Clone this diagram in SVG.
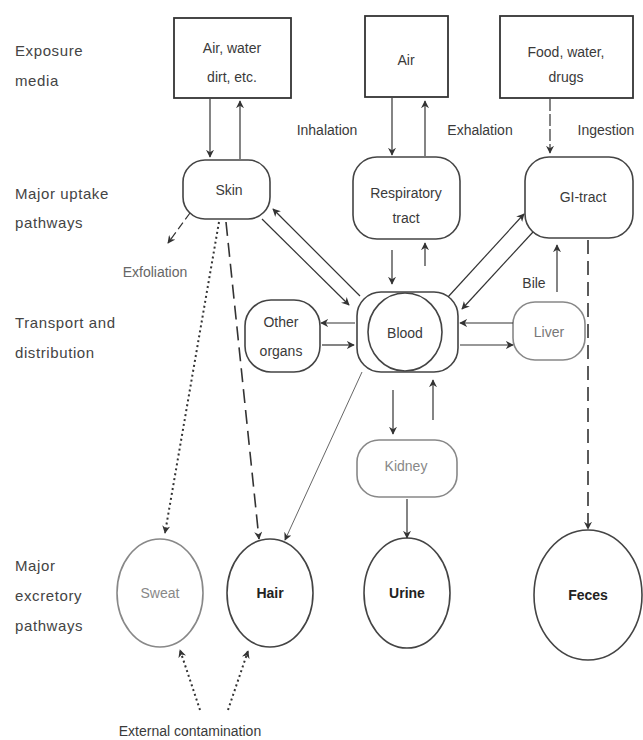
<svg xmlns="http://www.w3.org/2000/svg" width="643" height="740" viewBox="0 0 643 740">
<style>
text{font-family:"Liberation Sans","DejaVu Sans",sans-serif;font-size:14px;fill:#3a3a3a;text-anchor:middle;dominant-baseline:central}
.lbl{text-anchor:start;font-size:15px;letter-spacing:0.6px;fill:#444}
.box{fill:none;stroke:#333;stroke-width:1.8}
.node{fill:none;stroke:#444;stroke-width:1.6}
.light{stroke:#888}
.c{fill:none;stroke:#333;stroke-width:1.2}
.thin{stroke-width:0.9;stroke:#555}
.dot{stroke-dasharray:2 3;stroke-width:2}
.dash{stroke-dasharray:14 7;stroke-width:1.6}
.b{font-weight:bold;fill:#222}
</style>
<defs>
<marker id="ah" viewBox="0 0 10 10" refX="9" refY="5" markerWidth="8" markerHeight="8" orient="auto" markerUnits="userSpaceOnUse">
<path d="M0,0 L10,5 L0,10 L3,5 Z" fill="#333"/>
</marker>
</defs>
<rect width="643" height="740" fill="#fff"/>
<g id="row-labels">
<text class="lbl" x="15" y="50">Exposure</text>
<text class="lbl" x="15" y="80">media</text>
<text class="lbl" x="15" y="193">Major uptake</text>
<text class="lbl" x="15" y="222">pathways</text>
<text class="lbl" x="15" y="322">Transport and</text>
<text class="lbl" x="15" y="352">distribution</text>
<text class="lbl" x="15" y="565">Major</text>
<text class="lbl" x="15" y="595">excretory</text>
<text class="lbl" x="15" y="625">pathways</text>
</g>
<g id="media-env">
<rect class="box" x="174" y="18" width="117" height="80"/>
<text x="232" y="48">Air, water</text>
<text x="232" y="77">dirt, etc.</text>
</g>
<g id="media-air">
<rect class="box" x="365" y="16" width="83" height="81"/>
<text x="406" y="60">Air</text>
</g>
<g id="media-food">
<rect class="box" x="500" y="16" width="133" height="82"/>
<text x="566" y="52">Food, water,</text>
<text x="566" y="77">drugs</text>
</g>
<g id="skin">
<rect class="node" x="183" y="160" width="87" height="59" rx="22"/>
<text x="229" y="190">Skin</text>
</g>
<g id="resp">
<rect class="node" x="353" y="157" width="107" height="82" rx="24"/>
<text x="406" y="193">Respiratory</text>
<text x="406" y="218">tract</text>
</g>
<g id="gi">
<rect class="node" x="525" y="157" width="108" height="81" rx="24"/>
<text x="583" y="197">GI-tract</text>
</g>
<g id="blood">
<rect class="node" x="357" y="292" width="101" height="80" rx="24"/>
<ellipse class="node" cx="405" cy="332" rx="37" ry="39"/>
<text x="405" y="333">Blood</text>
</g>
<g id="other">
<rect class="node" x="245" y="300" width="75" height="72" rx="26"/>
<text x="281" y="322">Other</text>
<text x="281" y="351">organs</text>
</g>
<g id="liver">
<rect class="node light" x="513" y="302" width="72" height="58" rx="22"/>
<text x="549" y="332" style="fill:#777">Liver</text>
</g>
<g id="kidney">
<rect class="node light" x="357" y="440" width="100" height="57" rx="22"/>
<text x="406" y="466" style="fill:#888">Kidney</text>
</g>
<g id="sweat">
<ellipse class="node light" cx="160" cy="593" rx="43" ry="54"/>
<text x="160" y="593" style="fill:#888">Sweat</text>
</g>
<g id="hair">
<ellipse class="node" cx="270" cy="593" rx="43" ry="54"/>
<text class="b" x="270" y="593">Hair</text>
</g>
<g id="urine">
<ellipse class="node" cx="407" cy="593" rx="43" ry="55"/>
<text class="b" x="407" y="593">Urine</text>
</g>
<g id="feces">
<ellipse class="node" cx="588" cy="595" rx="54" ry="65"/>
<text class="b" x="588" y="595">Feces</text>
</g>
<g id="connectors">
<line class="c" x1="210" y1="99" x2="210" y2="157" marker-end="url(#ah)"/>
<line class="c" x1="240" y1="159" x2="240" y2="101" marker-end="url(#ah)"/>
<line class="c" x1="392" y1="98" x2="392" y2="155" marker-end="url(#ah)"/>
<line class="c" x1="425" y1="156" x2="425" y2="101" marker-end="url(#ah)"/>
<line class="c" x1="550" y1="99" x2="550" y2="153" marker-end="url(#ah)" stroke-dasharray="12 3"/>
<line class="c" x1="190" y1="213" x2="168" y2="243" stroke-dasharray="8 4" marker-end="url(#ah)"/>
<line class="c" x1="360" y1="296" x2="273" y2="209" marker-end="url(#ah)"/>
<line class="c" x1="262" y1="219" x2="349" y2="305" marker-end="url(#ah)"/>
<line class="c" x1="448" y1="297" x2="524" y2="214" marker-end="url(#ah)"/>
<line class="c" x1="533" y1="232" x2="462" y2="309" marker-end="url(#ah)"/>
<line class="c" x1="392" y1="250" x2="392" y2="284" marker-end="url(#ah)"/>
<line class="c" x1="425" y1="266" x2="425" y2="243" marker-end="url(#ah)"/>
<line class="c" x1="355" y1="323" x2="321" y2="323" marker-end="url(#ah)"/>
<line class="c" x1="322" y1="345" x2="354" y2="345" marker-end="url(#ah)"/>
<line class="c" x1="513" y1="323" x2="460" y2="323" marker-end="url(#ah)"/>
<line class="c" x1="460" y1="345" x2="513" y2="345" marker-end="url(#ah)"/>
<line class="c" x1="557" y1="292" x2="557" y2="245" marker-end="url(#ah)"/>
<line class="c" x1="393" y1="390" x2="393" y2="434" marker-end="url(#ah)"/>
<line class="c" x1="433" y1="420" x2="433" y2="380" marker-end="url(#ah)"/>
<line class="c" x1="407" y1="499" x2="407" y2="538" marker-end="url(#ah)"/>
<line class="c dash" x1="588" y1="240" x2="588" y2="529" marker-end="url(#ah)"/>
<line class="c dot" x1="219" y1="222" x2="165" y2="533" marker-end="url(#ah)"/>
<line class="c dash" x1="226" y1="222" x2="259" y2="539" marker-end="url(#ah)"/>
<line class="c thin" x1="362" y1="372" x2="285" y2="540" marker-end="url(#ah)"/>
<line class="c dot" x1="200" y1="710" x2="180" y2="650" marker-end="url(#ah)"/>
<line class="c dot" x1="228" y1="710" x2="248" y2="651" marker-end="url(#ah)"/>
</g>
<g id="edge-labels">
<text x="327" y="130">Inhalation</text>
<text x="480" y="130">Exhalation</text>
<text x="606" y="130">Ingestion</text>
<text x="155" y="272" style="fill:#666">Exfoliation</text>
<text x="534" y="283">Bile</text>
<text x="190" y="731">External contamination</text>
</g>
</svg>
